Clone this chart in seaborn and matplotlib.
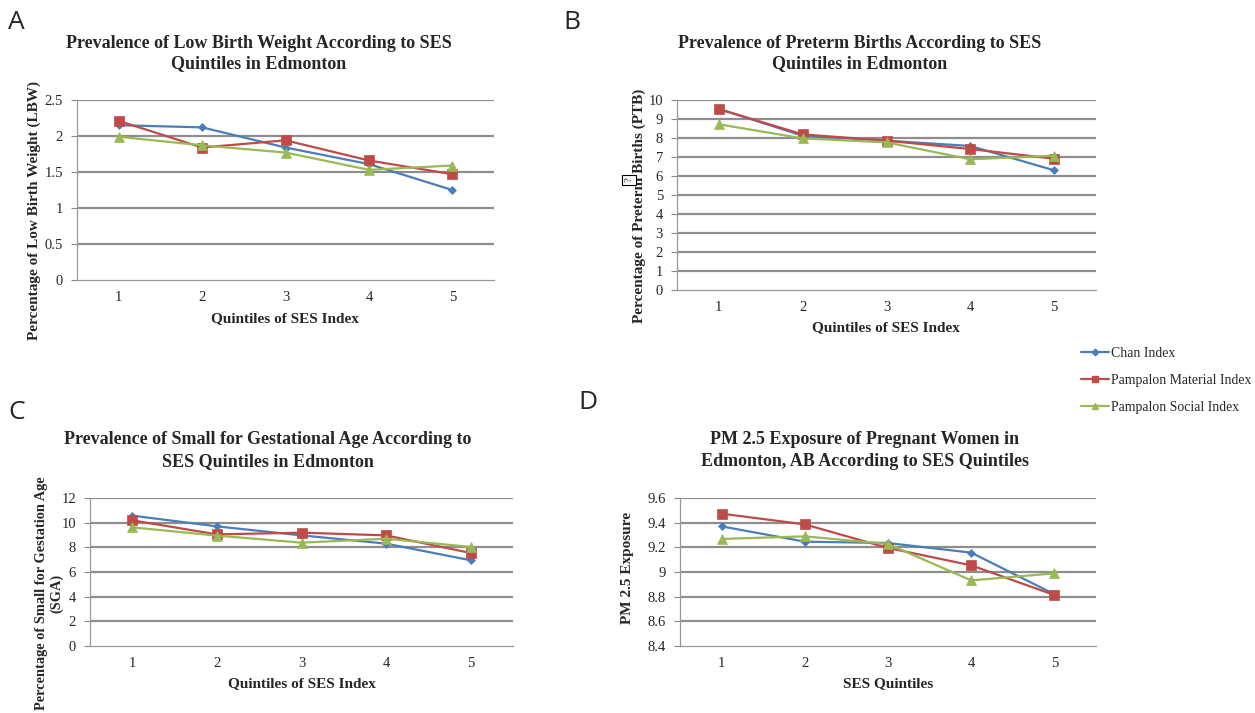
import numpy as np
import pandas as pd
import matplotlib
matplotlib.use("Agg")
import matplotlib.pyplot as plt
from matplotlib.lines import Line2D
from matplotlib.ticker import FuncFormatter, FixedLocator
import seaborn as sns

# ── Data ──────────────────────────────────────────────────────────────────────
quintiles = [1, 2, 3, 4, 5]
series_names = ["Chan Index", "Pampalon Material Index", "Pampalon Social Index"]

lbw_chan     = [2.15, 2.12, 1.84, 1.61, 1.25]
lbw_material = [2.21, 1.84, 1.94, 1.66, 1.47]
lbw_social   = [1.99, 1.87, 1.77, 1.53, 1.59]

ptb_chan     = [9.53, 8.12, 7.86, 7.58, 6.30]
ptb_material = [9.52, 8.19, 7.86, 7.42, 6.91]
ptb_social   = [8.72, 7.98, 7.77, 6.88, 7.07]

sga_chan     = [10.57, 9.70, 8.97, 8.30, 6.95]
sga_material = [10.19, 9.05, 9.19, 8.97, 7.54]
sga_social   = [9.62, 8.95, 8.38, 8.70, 8.03]

pm_chan     = [9.37, 9.246, 9.235, 9.157, 8.82]
pm_material = [9.473, 9.386, 9.195, 9.054, 8.813]
pm_social   = [9.268, 9.289, 9.227, 8.932, 8.989]

# ── Style ─────────────────────────────────────────────────────────────────────
sns.set_style("white")
SERIF = ["Liberation Serif", "DejaVu Serif"]
plt.rcParams["font.family"] = SERIF

COLORS  = ["#4a7ebb", "#be4b48", "#98b954"]
MARKERS = ["D", "s", "^"]
MSIZES  = [4.5, 6.5, 6.5]
GRID_COL = "#8e8e8e"

W, H = 1255, 713
fig = plt.figure(figsize=(W / 100, H / 100), dpi=100)


def px_axes(left, top, right, bottom):
    return fig.add_axes([left / W, 1 - bottom / H, (right - left) / W, (bottom - top) / H])


def fmt(v, _):
    return f"{round(v, 2):g}"


def draw_panel(ax, values, yticks):
    for name, vals, col, mk, ms in zip(series_names, values, COLORS, MARKERS, MSIZES):
        df = pd.DataFrame({"quintile": quintiles, "value": vals})
        sns.lineplot(data=df, x="quintile", y="value", ax=ax, color=col, marker=mk,
                     markersize=ms, markeredgecolor=col, markeredgewidth=0.5,
                     linewidth=1.6, label=name, legend=False, zorder=4)
    ax.set_xlim(0.5, 5.5)
    ax.set_ylim(yticks[0], yticks[-1])
    ax.set_xlabel("")
    ax.set_ylabel("")
    for yv in yticks[1:]:
        ax.axhline(yv, color=GRID_COL, linewidth=1.6, zorder=1)
    ax.yaxis.set_major_locator(FixedLocator(yticks))
    ax.yaxis.set_major_formatter(FuncFormatter(fmt))
    ax.set_xticks(quintiles)
    ax.set_xticks(np.arange(0.5, 6.0, 1.0), minor=True)
    ax.tick_params(axis="x", which="major", length=0, pad=8, labelsize=10.5)
    ax.tick_params(axis="x", which="minor", length=4, width=0.8, color="#888888", direction="out")
    ax.tick_params(axis="y", length=4, width=0.8, color="#888888", direction="out",
                   pad=6, labelsize=10.5, left=True)
    for s in ["top", "right"]:
        ax.spines[s].set_visible(False)
    for s in ["left", "bottom"]:
        ax.spines[s].set_color("#999999")
        ax.spines[s].set_linewidth(0.9)


TITLE_KW = dict(fontsize=13, fontweight="bold", ha="center", va="center", family=SERIF)
LABEL_KW = dict(fontsize=11, fontweight="bold", ha="center", va="center", family=SERIF)
LETTER_KW = dict(fontsize=19, ha="left", va="top", family=["Open Sans", "DejaVu Sans"])


def ftext(x, y, s, **kw):
    return fig.text(x / W, 1 - y / H, s, **kw)


# ── Panel A ───────────────────────────────────────────────────────────────────
axA = px_axes(77, 100, 494, 280)
draw_panel(axA, [lbw_chan, lbw_material, lbw_social], [0, 0.5, 1, 1.5, 2, 2.5])
ftext(8, 10, "A", **LETTER_KW)
ftext(259, 43, "Prevalence of Low Birth Weight According to SES", **TITLE_KW)
ftext(259, 64, "Quintiles in Edmonton", **TITLE_KW)
ftext(285, 319, "Quintiles of SES Index", **LABEL_KW)
ftext(34, 210, "Percentage of Low Birth Weight (LBW)", rotation=90, **LABEL_KW)

# ── Panel B ───────────────────────────────────────────────────────────────────
axB = px_axes(677, 100, 1096, 290)
draw_panel(axB, [ptb_chan, ptb_material, ptb_social], list(range(0, 11)))
ftext(563, 10, "B", **LETTER_KW)
ftext(860, 43, "Prevalence of Preterm Births According to SES", **TITLE_KW)
ftext(860, 64, "Quintiles in Edmonton", **TITLE_KW)
ftext(886, 328, "Quintiles of SES Index", **LABEL_KW)
ftext(639, 206, "Percentage of Preterm Births (PTB)", rotation=90, **LABEL_KW)
ftext(629, 180, "?", rotation=90, fontsize=8, ha="center", va="center", family=SERIF,
      bbox=dict(boxstyle="square,pad=0.2", facecolor="white", edgecolor="black", linewidth=0.8))

# ── Panel C ───────────────────────────────────────────────────────────────────
axC = px_axes(90, 498, 513, 646)
draw_panel(axC, [sga_chan, sga_material, sga_social], [0, 2, 4, 6, 8, 10, 12])
ftext(8, 400, "C", **LETTER_KW)
ftext(268, 440, "Prevalence of Small for Gestational Age According to", **TITLE_KW)
ftext(268, 462, "SES Quintiles in Edmonton", **TITLE_KW)
ftext(302, 684, "Quintiles of SES Index", **LABEL_KW)
C_LABEL_KW = dict(LABEL_KW, fontsize=10.4)
ftext(49, 593, "Percentage of Small for Gestation Age\n(SGA)", rotation=90,
      linespacing=1.15, **C_LABEL_KW)

# ── Panel D ───────────────────────────────────────────────────────────────────
axD = px_axes(680, 498, 1096, 646)
draw_panel(axD, [pm_chan, pm_material, pm_social], [8.4, 8.6, 8.8, 9.0, 9.2, 9.4, 9.6])
ftext(578, 390, "D", **LETTER_KW)
ftext(865, 440, "PM 2.5 Exposure of Pregnant Women in", **TITLE_KW)
ftext(865, 462, "Edmonton, AB According to SES Quintiles", **TITLE_KW)
ftext(888, 684, "SES Quintiles", **LABEL_KW)
ftext(628, 568, "PM 2.5 Exposure", rotation=90, **LABEL_KW)

# ── Shared legend ─────────────────────────────────────────────────────────────
handles = [Line2D([0], [0], color=c, marker=m, markersize=s * 0.75, markeredgecolor=c,
                  linewidth=1.6) for c, m, s in zip(COLORS, MARKERS, MSIZES)]
fig.legend(handles, series_names, loc="upper left", bbox_to_anchor=(1081 / W, 1 - 347 / H),
           frameon=False, fontsize=9.9, handlelength=2.0, handletextpad=0.15,
           labelspacing=1.0, borderaxespad=0, borderpad=0)

fig.savefig("out.png", dpi=100, facecolor="white")
